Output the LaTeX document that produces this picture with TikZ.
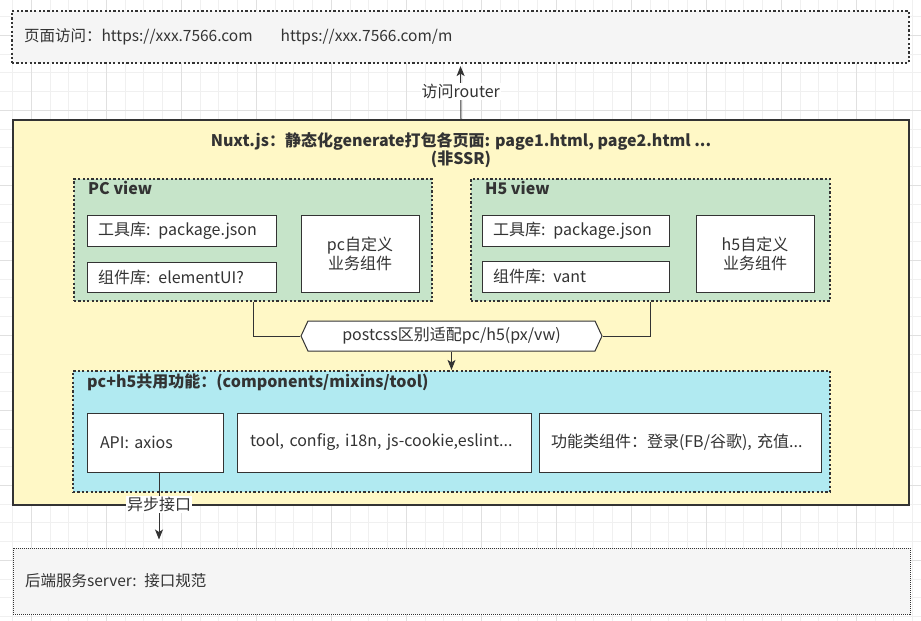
\documentclass[tikz,border=0pt]{standalone}
\usepackage{fontspec}
\setmainfont{Noto Sans CJK SC}
\usetikzlibrary{arrows.meta, shapes.symbols}

\definecolor{pagegray}{HTML}{F5F5F5}
\definecolor{nuxtyellow}{HTML}{FFF8C6}
\definecolor{viewgreen}{HTML}{C6E4C9}
\definecolor{sharedcyan}{HTML}{B1EAF1}
\definecolor{linegray}{HTML}{333333}
\definecolor{gridminor}{HTML}{F0F0F0}
\definecolor{gridmajor}{HTML}{E0E0E0}

\begin{document}
\begin{tikzpicture}[
  x=1pt, y=-1pt,
  font=\fontsize{16}{19}\selectfont, text=linegray,
  every node/.style={align=center},
  %% ─── 樣式定義 ────────────────────────────────────────────────
  pagebox/.style={
    draw=linegray, fill=pagegray, line width=2.2pt, dash pattern=on 2.2pt off 2.2pt,
    align=left, inner xsep=12pt, font=\fontsize{15.5}{18}\selectfont
  },
  serverbox/.style={
    draw=linegray, fill=pagegray, line width=1pt, dash pattern=on 1pt off 1pt,
    align=left, inner xsep=12pt, font=\fontsize{15.5}{18}\selectfont
  },
  nuxtbox/.style={draw=linegray, fill=nuxtyellow, line width=1.5pt},
  viewbox/.style={
    draw=linegray, fill=viewgreen, line width=2.2pt, dash pattern=on 2.2pt off 2.2pt
  },
  sharedbox/.style={
    draw=linegray, fill=sharedcyan, line width=2.2pt, dash pattern=on 2.2pt off 2.2pt
  },
  viewtitle/.style={font=\fontsize{16}{17}\selectfont\bfseries, inner sep=3pt},
  itembox/.style={draw=linegray, fill=white, line width=1pt, align=left, inner xsep=11pt},
  bizbox/.style={
    draw=linegray, fill=white, line width=1pt,
    minimum width=118pt, minimum height=77pt, font=\fontsize{16}{19}\selectfont
  },
  hexbox/.style={
    signal, signal to=east and west, signal pointer angle=130,
    draw=linegray, fill=white, line width=1pt, minimum width=301pt, minimum height=30pt
  },
  link/.style={draw=linegray, line width=1pt},
  arrowlink/.style={draw=linegray, line width=1pt, -{Stealth[length=10pt, width=8pt, inset=2.5pt]}},
  edgelabel/.style={fill=white, inner sep=1pt}
]
  \useasboundingbox (0,0) rectangle (921,621);

  %% ─── 0. 背景網格 ─────────────────────────────────────────────
  \foreach \gx in {0,...,48} \draw[gridminor] ({12.25+18.75*\gx},0) -- ++(0,621);
  \foreach \gy in {0,...,32} \draw[gridminor] (0,{16.25+18.75*\gy}) -- ++(921,0);
  \foreach \gx in {0,...,11} \draw[gridmajor] ({31+75*\gx},0) -- ++(0,621);
  \foreach \gy in {0,...,7} \draw[gridmajor] (0,{35+75*\gy}) -- ++(921,0);

  %% ─── 1. 頁面訪問 ─────────────────────────────────────────────
  \node[pagebox, text width=873pt, minimum height=52pt] (pages) at (460.5,37)
    {页面访问：https://xxx.7566.com\hspace{28pt}https://xxx.7566.com/m};

  %% ─── 2. Nuxt.js 外框 ─────────────────────────────────────────
  \node[nuxtbox, minimum width=896pt, minimum height=385pt] (nuxt) at (461,312.5) {};
  \node[font=\fontsize{16}{15.5}\selectfont\bfseries] (nuxttitle) at (461,150)
    {Nuxt.js：静态化generate打包各页面: page1.html, page2.html ...\\(非SSR)};

  %% ─── 3. PC view ──────────────────────────────────────────────
  \node[viewbox, minimum width=358pt, minimum height=122pt] (pcview) at (253,240) {};
  \node[viewtitle, anchor=west] (pctitle) at (85,188) {PC view};
  \node[itembox, text width=167pt, minimum height=31pt] (pctools) at (181.5,230.5) {工具库: package.json};
  \node[itembox, text width=167pt, minimum height=30pt] (pccomps) at (181.5,277) {组件库: elementUI?};
  \node[bizbox] (pcbiz) at (360,253.5) {pc自定义\\业务组件};

  %% ─── 4. H5 view ──────────────────────────────────────────────
  \node[viewbox, minimum width=359pt, minimum height=122pt] (h5view) at (650.5,240) {};
  \node[viewtitle, anchor=west] (h5title) at (482,188) {H5 view};
  \node[itembox, text width=165pt, minimum height=31pt] (h5tools) at (575.5,230.5) {工具库: package.json};
  \node[itembox, text width=165pt, minimum height=31pt] (h5comps) at (575.5,276.5) {组件库: vant};
  \node[bizbox] (h5biz) at (755,253.5) {h5自定义\\业务组件};

  %% ─── 5. postcss 適配 ─────────────────────────────────────────
  \node[hexbox] (postcss) at (451.5,336) {postcss区别适配pc/h5(px/vw)};

  \draw[link] (pcview.south) |- (postcss.west);
  \draw[link] (h5view.south) |- (postcss.east);

  %% ─── 6. 共用功能 ─────────────────────────────────────────────
  \node[sharedbox, minimum width=757pt, minimum height=121pt] (shared) at (451.5,431.5) {};
  \node[viewtitle, anchor=west] (sharedtitle) at (84,382) {pc+h5共用功能：(components/mixins/tool)};
  \node[itembox, text width=110pt, inner xsep=13pt, minimum height=59pt] (api) at (155,442.5) {API: axios};
  \node[itembox, text width=268pt, inner xsep=13pt, minimum height=59pt] (tools) at (384,442.5)
    {tool, config, i18n, js-cookie,eslint...};
  \node[itembox, text width=258pt, inner xsep=12pt, minimum height=59pt] (funcs) at (680,442.5)
    {功能类组件：登录(FB/谷歌), 充值...};

  \draw[arrowlink] (postcss.south) -- (shared.north);

  %% ─── 7. 後端服務 ─────────────────────────────────────────────
  \node[serverbox, text width=873pt, minimum height=66pt] (server) at (461.5,581) {后端服务server: 接口规范};

  % 連線
  \draw[arrowlink, shorten >=2pt] (nuxt.north) -- (pages.south) node[edgelabel, midway] {访问router};
  \draw[arrowlink, shorten >=8pt] ([xshift=4pt]api.south) -- ([xshift=4pt]api.south |- server.north)
    node[edgelabel, pos=0.43] {异步接口};

\end{tikzpicture}
\end{document}
